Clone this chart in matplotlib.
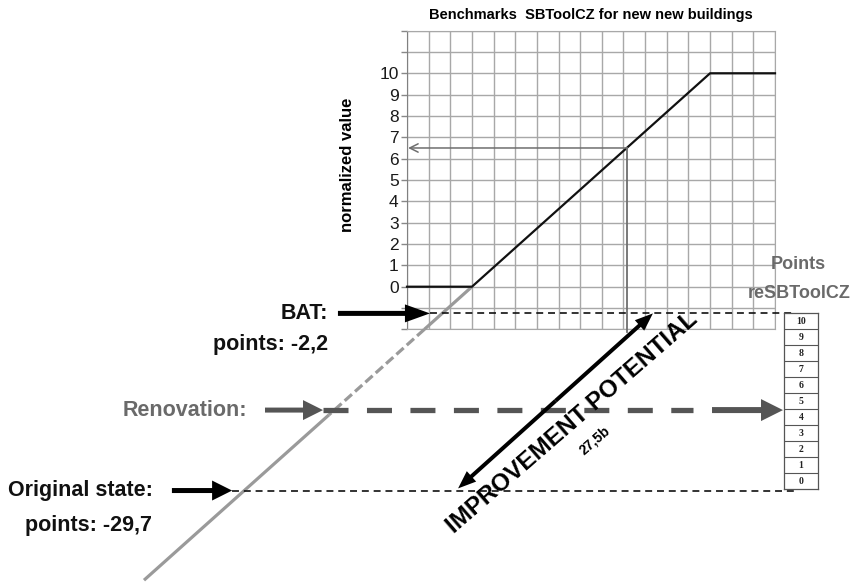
import numpy as np
import matplotlib.pyplot as plt

plt.rcParams['font.family'] = ['Liberation Sans', 'DejaVu Sans']
plt.rcParams['lines.scale_dashes'] = False

# benchmark curve SBToolCZ (grid columns vs normalized value)
bench_x = [0, 3, 14, 17]
bench_y = [0, 0, 10, 10]
# grey extension of the rising part below zero
ext_solid_x = [3, 0.8]
ext_solid_y = [0, -2]
ext_dash_x = [0.8, -3.6]
ext_dash_y = [-2, -6.0]
ext_low_x = [-3.6, -12.15]
ext_low_y = [-6.0, -13.75]
# evaluated building
eval_x, eval_y = 10.15, 6.5
y_ticks = list(range(-2, 13))
y_labels = [str(v) if 0 <= v <= 10 else '' for v in y_ticks]
# levels on the extended normalized axis
bat_level = -1.25
renov_level = -5.78
orig_level = -9.55
bat_points = '-2,2'
orig_points = '-29,7'
potential = '27,5b'
box_points = list(range(11))

fig = plt.figure(figsize=(8.58, 5.83), dpi=100)
ax = fig.add_axes([407/858, 1 - 329.4/583, 368/858, 298.8/583])
ax.set_xlim(0, 17)
ax.set_ylim(-2, 12)
ax.set_xticks(range(18))
ax.set_yticks(y_ticks, y_labels)
ax.grid(True, color='#a8a8a8', lw=1.0)
ax.set_axisbelow(True)
ax.tick_params(axis='x', length=0, labelbottom=False)
ax.tick_params(axis='y', length=4, color='#888888', width=1, labelsize=12.5,
               pad=2, labelcolor='#1a1a1a')
for s in ax.spines.values():
    s.set_color('#a8a8a8')
ax.spines['left'].set_color('#808080')

ax.set_title('Benchmarks  SBToolCZ for new new buildings', fontsize=10.5,
             fontweight='bold', pad=8)
ax.text(-2.77, 5.7, 'normalized value', rotation=90, ha='center', va='center',
        fontsize=12, fontweight='bold', clip_on=False)

# curves
grey = '#9a9a9a'
ax.plot(ext_solid_x, ext_solid_y, color=grey, lw=2.3, clip_on=False, zorder=3,
        solid_capstyle='butt')
ax.plot(ext_dash_x, ext_dash_y, color=grey, lw=2.3, clip_on=False, zorder=3,
        dashes=(7, 3))
ax.plot(ext_low_x, ext_low_y, color=grey, lw=2.3, clip_on=False, zorder=3,
        solid_capstyle='butt')
ax.plot(bench_x, bench_y, color='#111111', lw=1.6, zorder=4, clip_on=False)

# evaluated point: vertical and arrow to axis
ax.plot([eval_x, eval_x], [eval_y, -2.12], color='#6e6e6e', lw=1.3,
        clip_on=False, zorder=4)
ax.annotate('', xy=(0.05, eval_y), xytext=(eval_x, eval_y),
            arrowprops=dict(arrowstyle='->,head_length=0.6,head_width=0.3',
                            color='#6e6e6e', lw=1.1, shrinkA=0, shrinkB=0),
            annotation_clip=False, zorder=4)

# dashed levels
ax.plot([1.06, 17.92], [bat_level, bat_level], color='#111111', lw=1.2,
        dashes=(5, 3.5), clip_on=False, zorder=3)
ax.plot([-8.08, 17.92], [orig_level, orig_level], color='#111111', lw=1.2,
        dashes=(5, 3.5), clip_on=False, zorder=3)
ax.plot([-3.88, 13.21], [renov_level, renov_level], color='#555555', lw=3.8,
        dashes=(18, 13.3), clip_on=False, zorder=3)


def block_arrow(x0, y0, x1, y1, color, hl, hw, tw):
    ax.annotate('', xy=(x1, y1), xytext=(x0, y0),
                arrowprops=dict(arrowstyle=f'simple,head_length={hl},'
                                f'head_width={hw},tail_width={tw}',
                                color=color, lw=0, shrinkA=0, shrinkB=0,
                                mutation_scale=0.72),
                annotation_clip=False, zorder=5)


block_arrow(-3.19, bat_level, 1.06, bat_level, '#000000', 25, 18, 5)
block_arrow(-10.86, orig_level, -8.08, orig_level, '#000000', 20, 20, 5)
block_arrow(-6.56, renov_level, -3.88, renov_level, '#555555', 20, 20, 5)
block_arrow(14.09, renov_level, 17.37, renov_level, '#555555', 22, 22, 6)
# improvement potential double arrow
mx, my = (2.36 + 11.36) / 2, (orig_level + 0.1 + bat_level) / 2
block_arrow(mx, my, 11.36, bat_level, '#000000', 18, 14, 4)
block_arrow(mx, my, 2.36, orig_level + 0.1, '#000000', 18, 14, 4)

# labels
lab = dict(fontsize=15.5, fontweight='bold', va='center', clip_on=False)
ax.text(-3.65, bat_level, 'BAT:', ha='right', color='#111111', **lab)
ax.text(-3.65, -2.73, f'points: {bat_points}', ha='right', color='#111111', **lab)
ax.text(-7.39, renov_level, 'Renovation:', ha='right', color='#6a6a6a', **lab)
ax.text(-11.73, orig_level, 'Original state:', ha='right', color='#111111', **lab)
ax.text(-11.78, -11.17, f'points: {orig_points}', ha='right', color='#111111', **lab)
ax.text(18.06, 1.02, 'Points', ha='center', color='#6a6a6a', fontsize=13,
        fontweight='bold', va='center', clip_on=False)
ax.text(18.11, -0.30, 'reSBToolCZ', ha='center', color='#6a6a6a', fontsize=13,
        fontweight='bold', va='center', clip_on=False)
ax.text(7.62, -6.39, 'IMPROVEMENT POTENTIAL', rotation=41, rotation_mode='anchor',
        ha='center', va='center', fontsize=17.5, fontweight='bold', clip_on=False)
ax.text(8.68, -7.18, potential, rotation=41, rotation_mode='anchor',
        ha='center', va='center', fontsize=10, fontweight='bold', clip_on=False)

# reSBToolCZ points box
bx = fig.add_axes([784/858, 1 - 489/583, 34/858, 176/583])
bx.set_xlim(0, 1)
bx.set_ylim(0, 11)
bx.set_xticks([])
bx.set_yticks([])
for s in bx.spines.values():
    s.set_color('#555555')
    s.set_linewidth(0.9)
for p in box_points[1:]:
    bx.axhline(p, color='#555555', lw=0.8)
for p in box_points:
    bx.text(0.5, p + 0.5, str(p), ha='center', va='center', fontsize=7,
            family='Liberation Serif', fontweight='bold', color='#222222')

fig.savefig('out.png', dpi=100)
